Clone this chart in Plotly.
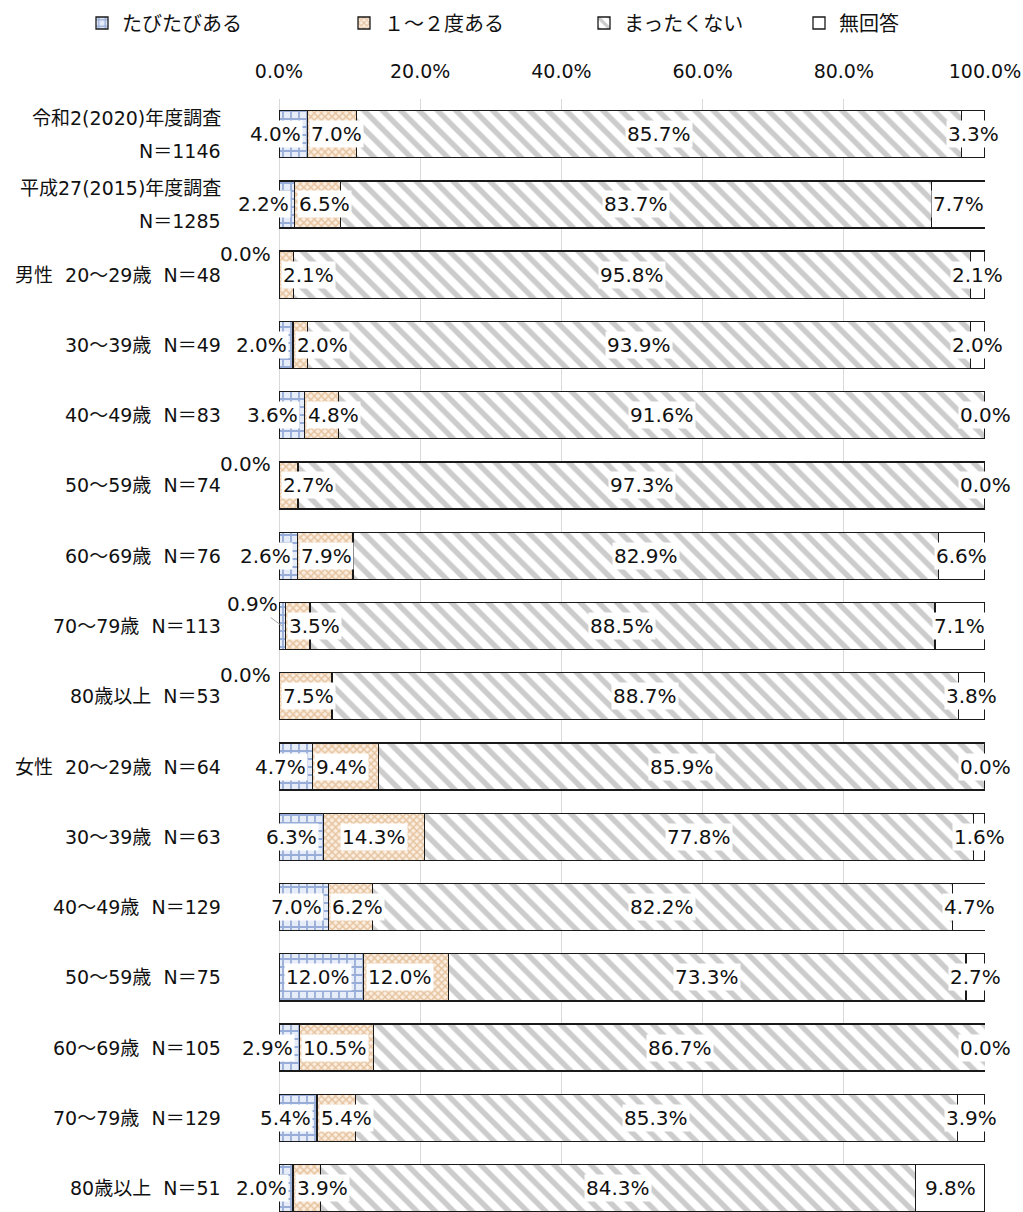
import plotly.graph_objects as go

# Survey groups (top to bottom); two-line labels use <br>
groups = [
    "令和2(2020)年度調査<br>N＝1146",
    "平成27(2015)年度調査<br>N＝1285",
    "男性\u00a0\u00a020～29歳\u00a0\u00a0N＝48",
    "30～39歳\u00a0\u00a0N＝49",
    "40～49歳\u00a0\u00a0N＝83",
    "50～59歳\u00a0\u00a0N＝74",
    "60～69歳\u00a0\u00a0N＝76",
    "70～79歳\u00a0\u00a0N＝113",
    "80歳以上\u00a0\u00a0N＝53",
    "女性\u00a0\u00a020～29歳\u00a0\u00a0N＝64",
    "30～39歳\u00a0\u00a0N＝63",
    "40～49歳\u00a0\u00a0N＝129",
    "50～59歳\u00a0\u00a0N＝75",
    "60～69歳\u00a0\u00a0N＝105",
    "70～79歳\u00a0\u00a0N＝129",
    "80歳以上\u00a0\u00a0N＝51",
]

series_names = ["たびたびある", "１～２度ある", "まったくない", "無回答"]

often = [4.0, 2.2, 0.0, 2.0, 3.6, 0.0, 2.6, 0.9, 0.0, 4.7, 6.3, 7.0, 12.0, 2.9, 5.4, 2.0]
once_twice = [7.0, 6.5, 2.1, 2.0, 4.8, 2.7, 7.9, 3.5, 7.5, 9.4, 14.3, 6.2, 12.0, 10.5, 5.4, 3.9]
never = [85.7, 83.7, 95.8, 93.9, 91.6, 97.3, 82.9, 88.5, 88.7, 85.9, 77.8, 82.2, 73.3, 86.7, 85.3, 84.3]
no_answer = [3.3, 7.7, 2.1, 2.0, 0.0, 0.0, 6.6, 7.1, 3.8, 0.0, 1.6, 4.7, 2.7, 0.0, 3.9, 9.8]

x_ticks = [0, 20, 40, 60, 80, 100]
x_tick_text = [f"{v:.1f}%" for v in x_ticks]

FONT = "DejaVu Sans, Noto Sans CJK JP, sans-serif"
TXT = "#111111"
LBL = 19      # axis / group labels
VAL = 20      # value labels on the bars

series = [often, once_twice, never, no_answer]
patterns = [
    dict(shape="+", fgcolor="#4a6db5", bgcolor="#e6edf8", size=8, solidity=0.4),
    dict(shape="x", fgcolor="#d29a62", bgcolor="#fbeee0", size=5, solidity=0.5),
    dict(shape="\\", fgcolor="#999999", bgcolor="#ffffff", size=13, solidity=0.42),
    None,
]
legend_ids = ["legend", "legend2", "legend3", "legend4"]
legend_x = [82, 344, 584, 799]

fig = go.Figure()
for name, vals, pat, lid in zip(series_names, series, patterns, legend_ids):
    marker = dict(color="#ffffff", line=dict(color="#1a1a1a", width=1.3))
    if pat is not None:
        marker["pattern"] = pat
    fig.add_trace(go.Bar(
        y=groups, x=vals, name=name, orientation="h",
        marker=marker, hoverinfo="skip", legend=lid,
    ))

annotations = []


def label(x, y, text, **kw):
    d = dict(x=min(x, 100), y=y, xref="x", yref="y", text=text, showarrow=False,
             bgcolor="#ffffff", borderpad=1,
             font=dict(family=FONT, size=VAL, color=TXT))
    d.update(kw)
    annotations.append(d)


for i, g in enumerate(groups):
    a, b, c, d = often[i], once_twice[i], never[i], no_answer[i]
    c1 = a
    c2 = a + b
    c3 = a + b + c
    # たびたびある
    if a == 0:
        label(0, g, f"{a:.1f}%", xanchor="right", xshift=-6, yshift=21, bgcolor="rgba(0,0,0,0)")
    elif a < 1:
        label(a / 2, g, f"{a:.1f}%", showarrow=True, arrowhead=0, arrowwidth=1,
              arrowcolor="#a6a6a6", ax=-30, ay=-22, bgcolor="rgba(0,0,0,0)")
    elif a >= 10:
        label(a / 2, g, f"{a:.1f}%", xshift=-3)
    else:
        label(c1, g, f"{a:.1f}%", xanchor="right", xshift=-4)
    # １～２度ある
    if b >= 14:
        label(c1 + b / 2, g, f"{b:.1f}%")
    else:
        label(c1, g, f"{b:.1f}%", xanchor="left", xshift=2)
    # まったくない
    label(c2 + c / 2, g, f"{c:.1f}%")
    # 無回答
    label(c3 + d / 2, g, f"{d:.1f}%")

# group labels at the left of the bars
for g in groups:
    lines = g.split("<br>")
    offsets = [0] if len(lines) == 1 else [16.5, -16.5]
    for line, off in zip(lines, offsets):
        annotations.append(dict(
            x=0, y=g, xref="paper", yref="y", text=line, showarrow=False,
            xanchor="right", xshift=-56, yshift=off,
            font=dict(family=FONT, size=LBL, color=TXT),
        ))

layout_legends = {}
for lid, lx in zip(legend_ids, legend_x):
    layout_legends[lid] = dict(
        orientation="h", xref="container", yref="container",
        x=lx / 1023, y=1 - 23 / 1212, xanchor="left", yanchor="middle",
        font=dict(family=FONT, size=20, color=TXT),
        itemclick=False, itemdoubleclick=False,
    )

fig.update_layout(
    width=1023, height=1212,
    margin=dict(l=279, r=38, t=99, b=0),
    paper_bgcolor="#ffffff", plot_bgcolor="#ffffff",
    barmode="stack", bargap=0.33,
    font=dict(family=FONT, size=LBL, color=TXT),
    showlegend=True,
    xaxis=dict(
        side="top", range=[0, 100], tickvals=x_ticks, ticktext=x_tick_text,
        showgrid=True, gridcolor="#d9d9d9", gridwidth=1,
        zeroline=True, zerolinecolor="#d9d9d9", zerolinewidth=1,
        showline=False, ticks="", ticklabelstandoff=16,
        tickfont=dict(family=FONT, size=LBL, color=TXT),
        fixedrange=True,
    ),
    yaxis=dict(
        type="category", categoryorder="array", categoryarray=groups,
        range=[15.34, -0.5], showticklabels=False, showgrid=False,
        zeroline=False, showline=False, ticks="", fixedrange=True,
    ),
    annotations=annotations,
    **layout_legends,
)

fig.write_html("out.html")
